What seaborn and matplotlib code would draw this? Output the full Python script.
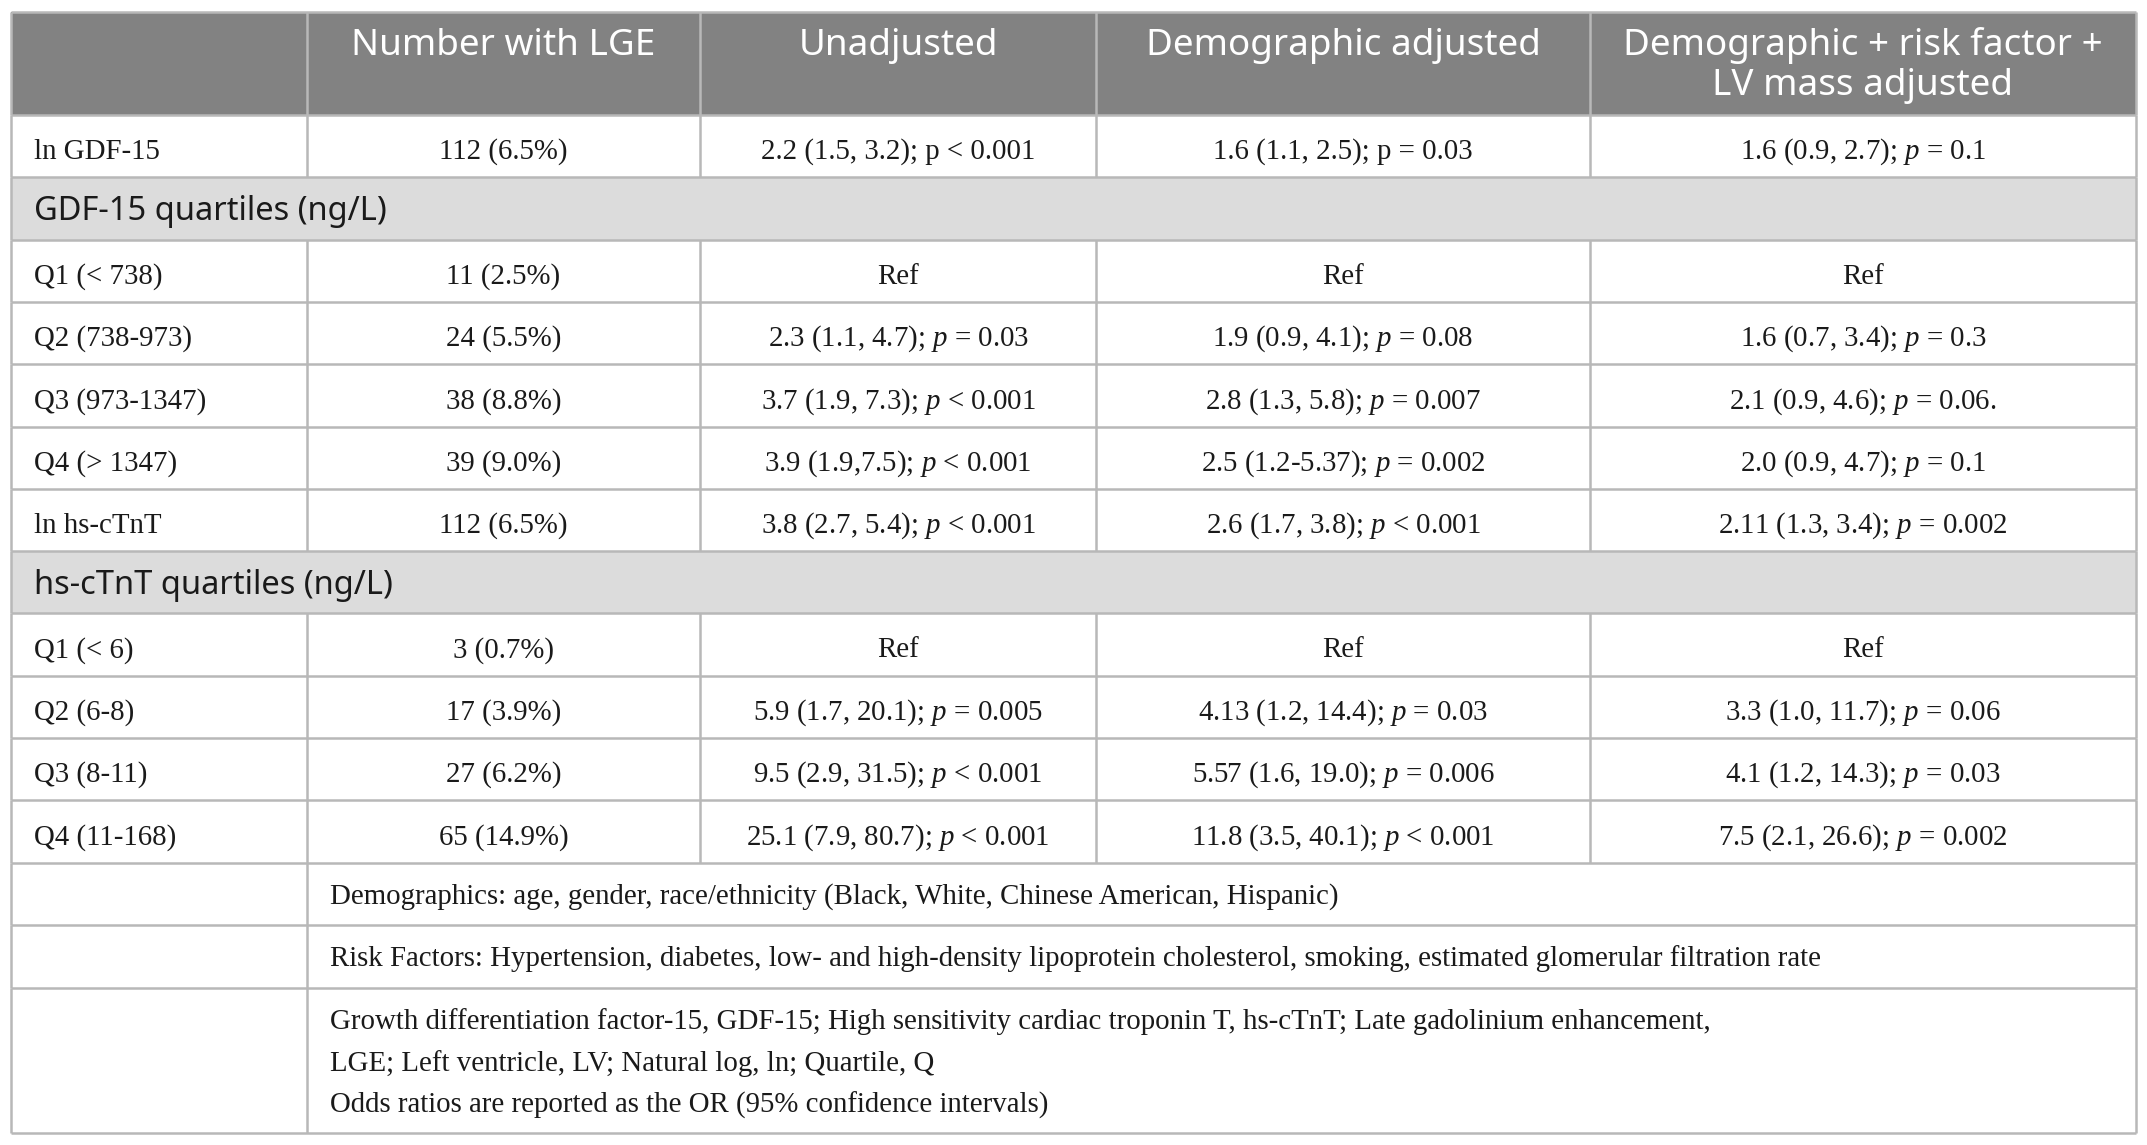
import matplotlib
matplotlib.use("Agg")
import matplotlib.pyplot as plt
from matplotlib.patches import Rectangle
import seaborn as sns

# Table content
header = ["", "Number with LGE", "Unadjusted", "Demographic adjusted",
          "Demographic + risk factor +\nLV mass adjusted"]

gdf_labels = ["ln GDF-15", None, "Q1 (< 738)", "Q2 (738-973)", "Q3 (973-1347)", "Q4 (> 1347)"]
gdf_section = "GDF-15 quartiles (ng/L)"
gdf_n = ["112 (6.5%)", None, "11 (2.5%)", "24 (5.5%)", "38 (8.8%)", "39 (9.0%)"]
gdf_unadj = ["2.2 (1.5, 3.2); p < 0.001", None, "Ref", "2.3 (1.1, 4.7); $p$ = 0.03",
             "3.7 (1.9, 7.3); $p$ < 0.001", "3.9 (1.9,7.5); $p$ < 0.001"]
gdf_demo = ["1.6 (1.1, 2.5); p = 0.03", None, "Ref", "1.9 (0.9, 4.1); $p$ = 0.08",
            "2.8 (1.3, 5.8); $p$ = 0.007", "2.5 (1.2-5.37); $p$ = 0.002"]
gdf_full = ["1.6 (0.9, 2.7); $p$ = 0.1", None, "Ref", "1.6 (0.7, 3.4); $p$ = 0.3",
            "2.1 (0.9, 4.6); $p$ = 0.06.", "2.0 (0.9, 4.7); $p$ = 0.1"]

tnt_labels = ["ln hs-cTnT", None, "Q1 (< 6)", "Q2 (6-8)", "Q3 (8-11)", "Q4 (11-168)"]
tnt_section = "hs-cTnT quartiles (ng/L)"
tnt_n = ["112 (6.5%)", None, "3 (0.7%)", "17 (3.9%)", "27 (6.2%)", "65 (14.9%)"]
tnt_unadj = ["3.8 (2.7, 5.4); $p$ < 0.001", None, "Ref", "5.9 (1.7, 20.1); $p$ = 0.005",
             "9.5 (2.9, 31.5); $p$ < 0.001", "25.1 (7.9, 80.7); $p$ < 0.001"]
tnt_demo = ["2.6 (1.7, 3.8); $p$ < 0.001", None, "Ref", "4.13 (1.2, 14.4); $p$ = 0.03",
            "5.57 (1.6, 19.0); $p$ = 0.006", "11.8 (3.5, 40.1); $p$ < 0.001"]
tnt_full = ["2.11 (1.3, 3.4); $p$ = 0.002", None, "Ref", "3.3 (1.0, 11.7); $p$ = 0.06",
            "4.1 (1.2, 14.3); $p$ = 0.03", "7.5 (2.1, 26.6); $p$ = 0.002"]

notes = [
    ["Demographics: age, gender, race/ethnicity (Black, White, Chinese American, Hispanic)"],
    ["Risk Factors: Hypertension, diabetes, low- and high-density lipoprotein cholesterol, smoking, estimated glomerular filtration rate"],
    ["Growth differentiation factor-15, GDF-15; High sensitivity cardiac troponin T, hs-cTnT; Late gadolinium enhancement,",
     "LGE; Left ventricle, LV; Natural log, ln; Quartile, Q",
     "Odds ratios are reported as the OR (95% confidence intervals)"],
]

# Layout (pixels)
W, H = 2147, 1145
col_x = [10.5, 307, 700, 1096, 1590, 2136]
header_top, header_bot = 12, 115
row_h = 62.3
note_h = [62, 63, 145]

HEADER_BG = "#828282"
SECTION_BG = "#dcdcdc"
LINE = "#b8b8b8"
LW = 1.8

sns.set_theme(style="white")
plt.rcParams["mathtext.fontset"] = "custom"
plt.rcParams["mathtext.rm"] = "Liberation Serif"
plt.rcParams["mathtext.it"] = "Liberation Serif:italic"

SERIF = ["Liberation Serif", "DejaVu Serif"]
SANS = ["Noto Sans", "DejaVu Sans"]
BODY_FS = 20.8
HEAD_FS = 26.5
SECT_FS = 23.5
INK = "#1a1a1a"

fig = plt.figure(figsize=(W / 100, H / 100), dpi=100)
ax = fig.add_axes([0, 0, 1, 1])
ax.set_xlim(0, W)
ax.set_ylim(H, 0)
ax.axis("off")


def hline(y):
    ax.plot([col_x[0], col_x[-1]], [y, y], color=LINE, lw=LW, solid_capstyle="butt")


def vlines(y0, y1, xs):
    for x in xs:
        ax.plot([x, x], [y0, y1], color=LINE, lw=LW, solid_capstyle="butt")


# header
ax.add_patch(Rectangle((col_x[0], header_top), col_x[-1] - col_x[0], header_bot - header_top,
                       facecolor=HEADER_BG, edgecolor="none"))
for i, txt in enumerate(header):
    if not txt:
        continue
    cx = (col_x[i] + col_x[i + 1]) / 2
    for k, line in enumerate(txt.split("\n")):
        ax.text(cx, header_top + 43 + k * 40, line, ha="center", va="baseline",
                color="white", fontsize=HEAD_FS, family=SANS)
hline(header_top)
hline(header_bot)
vlines(header_top, header_bot, col_x)

# body blocks
y = header_bot
blocks = [
    (gdf_labels, gdf_section, gdf_n, gdf_unadj, gdf_demo, gdf_full),
    (tnt_labels, tnt_section, tnt_n, tnt_unadj, tnt_demo, tnt_full),
]
for labels, section, n_lge, unadj, demo, full in blocks:
    for r, lab in enumerate(labels):
        top, bot = y, y + row_h
        if lab is None:
            ax.add_patch(Rectangle((col_x[0], top), col_x[-1] - col_x[0], row_h,
                                   facecolor=SECTION_BG, edgecolor="none"))
            ax.text(col_x[0] + 24, top + 43, section, ha="left", va="baseline",
                    fontsize=SECT_FS, family=SANS, color=INK)
            vlines(top, bot, [col_x[0], col_x[-1]])
        else:
            ax.text(col_x[0] + 24, top + 44, lab, ha="left", va="baseline",
                    fontsize=BODY_FS, family=SERIF, color=INK)
            for c, vals in enumerate([n_lge, unadj, demo, full], start=1):
                cx = (col_x[c] + col_x[c + 1]) / 2
                ax.text(cx, top + 44, vals[r], ha="center", va="baseline",
                        fontsize=BODY_FS, family=SERIF, color=INK)
            vlines(top, bot, col_x)
        hline(bot)
        y = bot

# notes
for lines, h in zip(notes, note_h):
    top, bot = y, y + h
    for k, line in enumerate(lines):
        ax.text(col_x[1] + 23, top + 41 + k * 42, line, ha="left", va="baseline",
                fontsize=BODY_FS, family=SERIF, color=INK)
    vlines(top, bot, [col_x[0], col_x[1], col_x[-1]])
    hline(bot)
    y = bot

fig.savefig("out.png", dpi=100, facecolor="white")
